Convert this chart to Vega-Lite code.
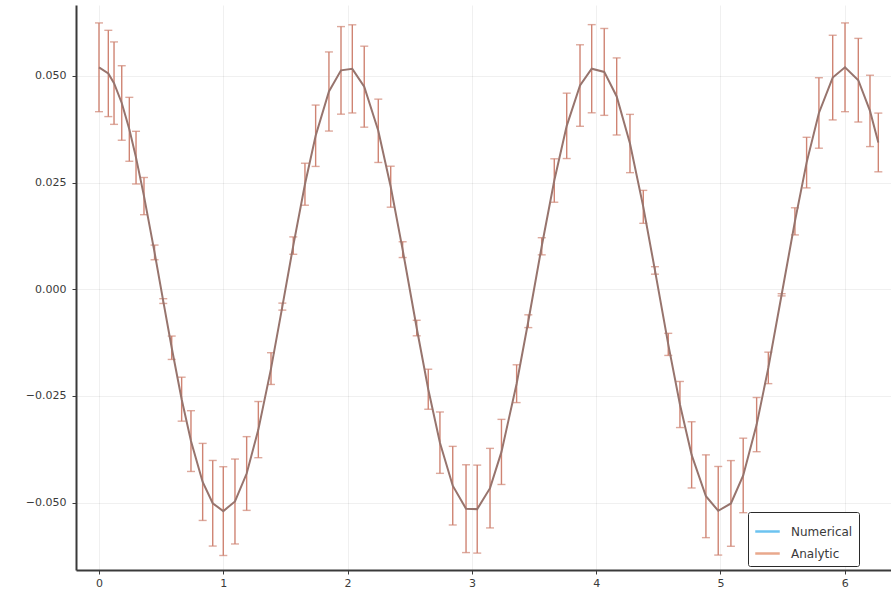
{
  "$schema": "https://vega.github.io/schema/vega-lite/v6.json",
  "autosize": "none",
  "width": 815,
  "height": 565,
  "padding": {"left": 76, "top": 5, "right": 0, "bottom": 25},
  "background": "white",
  "config": {
    "view": {"stroke": null},
    "font": "DejaVu Sans",
    "axis": {
      "domainColor": "#3a3a3a",
      "domainWidth": 2,
      "tickColor": "#3a3a3a",
      "tickSize": 4,
      "tickWidth": 1,
      "labelColor": "#3a3a3a",
      "labelFontSize": 11,
      "labelFont": "DejaVu Sans",
      "gridColor": "#000000",
      "gridOpacity": 0.06,
      "gridWidth": 1
    }
  },
  "data": {
    "values": [
      {"x": 0.0, "y": 0.052, "err": 0.0104},
      {"x": 0.075, "y": 0.05056, "err": 0.01011},
      {"x": 0.121, "y": 0.04829, "err": 0.00966},
      {"x": 0.183, "y": 0.04364, "err": 0.00873},
      {"x": 0.244, "y": 0.03747, "err": 0.00749},
      {"x": 0.298, "y": 0.03083, "err": 0.00617},
      {"x": 0.362, "y": 0.02182, "err": 0.00436},
      {"x": 0.447, "y": 0.00862, "err": 0.00172},
      {"x": 0.517, "y": -0.00278, "err": 0.00056},
      {"x": 0.585, "y": -0.01372, "err": 0.00274},
      {"x": 0.665, "y": -0.02577, "err": 0.00515},
      {"x": 0.74, "y": -0.03559, "err": 0.00712},
      {"x": 0.834, "y": -0.04516, "err": 0.00903},
      {"x": 0.915, "y": -0.05016, "err": 0.01003},
      {"x": 1.0, "y": -0.052, "err": 0.0104},
      {"x": 1.094, "y": -0.04975, "err": 0.00995},
      {"x": 1.188, "y": -0.04319, "err": 0.00864},
      {"x": 1.282, "y": -0.0329, "err": 0.00658},
      {"x": 1.384, "y": -0.0186, "err": 0.00372},
      {"x": 1.475, "y": -0.00408, "err": 0.00082},
      {"x": 1.563, "y": 0.01022, "err": 0.00204},
      {"x": 1.657, "y": 0.0246, "err": 0.00492},
      {"x": 1.743, "y": 0.03596, "err": 0.00719},
      {"x": 1.85, "y": 0.04633, "err": 0.00927},
      {"x": 1.947, "y": 0.05128, "err": 0.01026},
      {"x": 2.038, "y": 0.05163, "err": 0.01033},
      {"x": 2.134, "y": 0.04746, "err": 0.00949},
      {"x": 2.247, "y": 0.03712, "err": 0.00742},
      {"x": 2.347, "y": 0.02402, "err": 0.0048},
      {"x": 2.443, "y": 0.00927, "err": 0.00185},
      {"x": 2.556, "y": -0.0091, "err": 0.00182},
      {"x": 2.649, "y": -0.02344, "err": 0.00469},
      {"x": 2.743, "y": -0.03596, "err": 0.00719},
      {"x": 2.846, "y": -0.04604, "err": 0.00921},
      {"x": 2.953, "y": -0.05143, "err": 0.01029},
      {"x": 3.043, "y": -0.05153, "err": 0.01031},
      {"x": 3.146, "y": -0.04662, "err": 0.00932},
      {"x": 3.238, "y": -0.03813, "err": 0.00763},
      {"x": 3.36, "y": -0.02214, "err": 0.00443},
      {"x": 3.454, "y": -0.0075, "err": 0.0015},
      {"x": 3.562, "y": 0.01006, "err": 0.00201},
      {"x": 3.663, "y": 0.02547, "err": 0.00509},
      {"x": 3.763, "y": 0.03828, "err": 0.00766},
      {"x": 3.87, "y": 0.04773, "err": 0.00955},
      {"x": 3.964, "y": 0.05167, "err": 0.01033},
      {"x": 4.065, "y": 0.05092, "err": 0.01018},
      {"x": 4.165, "y": 0.04517, "err": 0.00903},
      {"x": 4.272, "y": 0.03414, "err": 0.00683},
      {"x": 4.379, "y": 0.0193, "err": 0.00386},
      {"x": 4.473, "y": 0.0044, "err": 0.00088},
      {"x": 4.58, "y": -0.01293, "err": 0.00259},
      {"x": 4.674, "y": -0.02702, "err": 0.0054},
      {"x": 4.768, "y": -0.03882, "err": 0.00776},
      {"x": 4.883, "y": -0.04852, "err": 0.0097},
      {"x": 4.982, "y": -0.05192, "err": 0.01038},
      {"x": 5.084, "y": -0.0502, "err": 0.01004},
      {"x": 5.183, "y": -0.04364, "err": 0.00873},
      {"x": 5.291, "y": -0.03173, "err": 0.00635},
      {"x": 5.385, "y": -0.01844, "err": 0.00369},
      {"x": 5.492, "y": -0.00131, "err": 0.00026},
      {"x": 5.599, "y": 0.0159, "err": 0.00318},
      {"x": 5.693, "y": 0.02967, "err": 0.00593},
      {"x": 5.792, "y": 0.0413, "err": 0.00826},
      {"x": 5.903, "y": 0.04959, "err": 0.00992},
      {"x": 6.002, "y": 0.052, "err": 0.0104},
      {"x": 6.109, "y": 0.04898, "err": 0.0098},
      {"x": 6.203, "y": 0.04178, "err": 0.00836},
      {"x": 6.27, "y": 0.03439, "err": 0.00688}
    ]
  },
  "layer": [
    {
      "mark": {"type": "errorbar", "color": "#cf8473", "thickness": 1.4, "ticks": {"size": 8, "thickness": 1.4, "color": "#cf8473"}},
      "encoding": {
        "x": {"field": "x", "type": "quantitative", "title": null, "scale": {"domain": [-0.185, 6.372], "nice": false, "zero": false},
              "axis": {"values": [0, 1, 2, 3, 4, 5, 6], "format": "d", "labelPadding": 3, "title": null}},
        "y": {"field": "y", "type": "quantitative", "title": null, "scale": {"domain": [-0.0658, 0.0666], "nice": false, "zero": false},
              "axis": {"values": [-0.05, -0.025, 0, 0.025, 0.05], "format": ".3f", "labelPadding": 6, "title": null}},
        "yError": {"field": "err"}
      }
    },
    {
      "mark": {"type": "line", "strokeWidth": 2, "color": "#97746d"},
      "encoding": {
        "x": {"field": "x", "type": "quantitative"},
        "y": {"field": "y", "type": "quantitative"}
      }
    },
    {
      "mark": {"type": "line", "strokeWidth": 2, "opacity": 0},
      "encoding": {
        "x": {"field": "x", "type": "quantitative"},
        "y": {"field": "y", "type": "quantitative"},
        "color": {"datum": "Numerical", "type": "nominal",
          "scale": {"domain": ["Numerical", "Analytic"], "range": ["#6cc3f0", "#e9a88c"]},
          "legend": {"title": null, "orient": "none", "legendX": 672, "legendY": 507, "symbolType": "stroke", "symbolStrokeWidth": 2.5, "symbolSize": 600, "symbolOpacity": 1, "labelFontSize": 12, "labelColor": "#3a3a3a", "strokeColor": "#2a2a2a", "fillColor": "white", "padding": 6, "cornerRadius": 2, "rowPadding": 2, "labelOffset": 10}}
      }
    },
    {
      "mark": {"type": "line", "strokeWidth": 2, "opacity": 0},
      "encoding": {
        "x": {"field": "x", "type": "quantitative"},
        "y": {"field": "y", "type": "quantitative"},
        "color": {"datum": "Analytic", "type": "nominal"}
      }
    }
  ]
}
